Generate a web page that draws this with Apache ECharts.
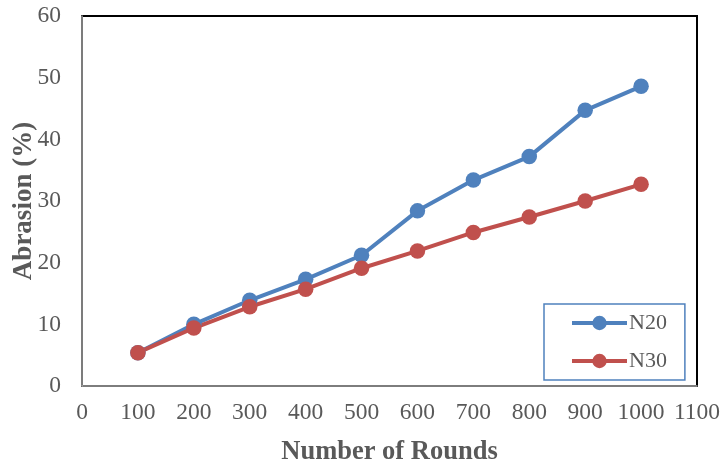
<!DOCTYPE html>
<html>
<head>
<meta charset="utf-8">
<script src="https://cdn.jsdelivr.net/npm/echarts@6/dist/echarts.min.js"></script>
<style>html,body{margin:0;padding:0;background:#fff;}#c{width:723px;height:466px;}</style>
</head>
<body>
<div id="c"></div>
<script>
var rounds = [100, 200, 300, 400, 500, 600, 700, 800, 900, 1000];
var n20 = [5.4, 10.0, 13.9, 17.3, 21.2, 28.4, 33.4, 37.2, 44.7, 48.6];
var n30 = [5.4, 9.4, 12.85, 15.7, 19.1, 21.9, 24.9, 27.4, 30.0, 32.7];
var seriesNames = ['N20', 'N30'];
var xTitle = 'Number of Rounds';
var yTitle = 'Abrasion (%)';

function pairs(xs, ys) { return xs.map(function (x, i) { return [x, ys[i]]; }); }

var font = 'Liberation Serif';
var chart = echarts.init(document.getElementById('c'), null, { renderer: 'canvas' });
chart.setOption({
  animation: false,
  backgroundColor: '#ffffff',
  grid: { left: 82, top: 16, right: 26, bottom: 80, containLabel: false, outerBoundsMode: 'none', show: true, borderColor: '#000000', borderWidth: 2, backgroundColor: 'transparent' },
  xAxis: {
    type: 'value', min: 0, max: 1100, interval: 100,
    name: xTitle, nameLocation: 'middle', nameGap: 53, nameMoveOverlap: false,
    nameTextStyle: { fontFamily: font, fontSize: 26.5, fontWeight: 'bold', color: '#595959', verticalAlign: 'top' },
    axisLine: { show: true, lineStyle: { color: '#a6a6a6', width: 1.5 } },
    axisTick: { show: false },
    splitLine: { show: false },
    axisLabel: { fontFamily: font, fontSize: 23.5, color: '#595959', margin: 15, formatter: function (v) { return String(v); } }
  },
  yAxis: {
    type: 'value', min: 0, max: 60, interval: 10,
    name: yTitle, nameLocation: 'middle', nameGap: 44, nameMoveOverlap: false,
    nameTextStyle: { fontFamily: font, fontSize: 27, fontWeight: 'bold', color: '#595959' },
    axisLine: { show: true, lineStyle: { color: '#a6a6a6', width: 1.5 } },
    axisTick: { show: false },
    splitLine: { show: false },
    axisLabel: { fontFamily: font, fontSize: 23.5, color: '#595959', margin: 21 }
  },
  legend: {
    orient: 'vertical', left: 544, top: 304,
    borderColor: '#4f81bd', borderWidth: 1.5,
    padding: [8, 18, 8, 26],
    itemWidth: 55, itemHeight: 18, itemGap: 16,
    lineStyle: { width: 4 },
    textStyle: { fontFamily: font, fontSize: 22, color: '#595959', padding: [0, 0, 0, -3] },
    data: seriesNames
  },
  series: [
    {
      name: seriesNames[0], type: 'line', data: pairs(rounds, n20),
      symbol: 'circle', symbolSize: 15.5,
      lineStyle: { color: '#4f81bd', width: 4 },
      itemStyle: { color: '#4f81bd' }
    },
    {
      name: seriesNames[1], type: 'line', data: pairs(rounds, n30),
      symbol: 'circle', symbolSize: 15.5,
      lineStyle: { color: '#c0504d', width: 4 },
      itemStyle: { color: '#c0504d' }
    }
  ]
});
</script>
</body>
</html>
